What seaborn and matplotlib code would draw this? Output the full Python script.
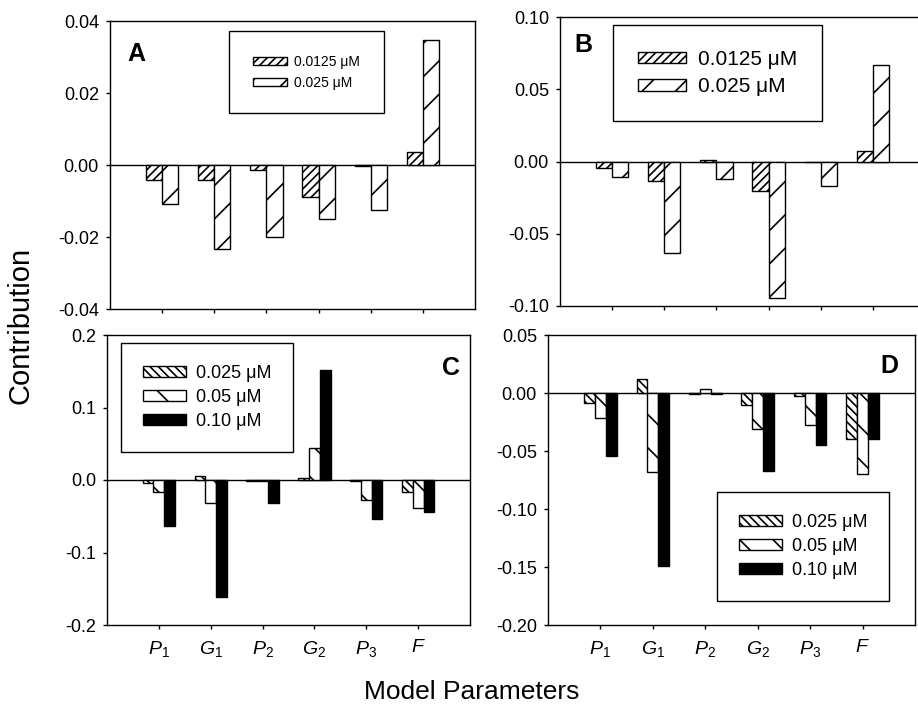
import numpy as np
import pandas as pd
import matplotlib
matplotlib.use("Agg")
import matplotlib.pyplot as plt
import seaborn as sns
from matplotlib.ticker import FormatStrFormatter
from matplotlib.patches import Patch

# ---------------- data ----------------
params = ["P1", "G1", "P2", "G2", "P3", "F"]
param_labels = [r"$\mathit{P}_{\mathit{1}}$", r"$\mathit{G}_{\mathit{1}}$",
                r"$\mathit{P}_{\mathit{2}}$", r"$\mathit{G}_{\mathit{2}}$",
                r"$\mathit{P}_{\mathit{3}}$", r"$\mathit{F}$"]

conc_ab = ["0.0125 \u03bcM", "0.025 \u03bcM"]
conc_cd = ["0.025 \u03bcM", "0.05 \u03bcM", "0.10 \u03bcM"]

A_0125 = [-0.0042, -0.0042, -0.0013, -0.0088, -0.0003, 0.0035]
A_025 = [-0.0109, -0.0233, -0.0200, -0.0149, -0.0126, 0.0346]

B_0125 = [-0.0046, -0.0138, 0.0008, -0.0203, -0.0003, 0.0074]
B_025 = [-0.0106, -0.0634, -0.0118, -0.0945, -0.0173, 0.0666]

C_025 = [-0.0045, 0.006, -0.001, 0.003, -0.0015, -0.017]
C_05 = [-0.017, -0.032, -0.001, 0.044, -0.027, -0.038]
C_10 = [-0.064, -0.162, -0.032, 0.152, -0.054, -0.044]

D_025 = [-0.0086, 0.0125, -0.0005, -0.0105, -0.0023, -0.040]
D_05 = [-0.0215, -0.068, 0.0035, -0.031, -0.0276, -0.070]
D_10 = [-0.054, -0.149, -0.001, -0.067, -0.045, -0.040]


def long_df(series, concs):
    rows = []
    for vals, c in zip(series, concs):
        for p, v in zip(params, vals):
            rows.append({"param": p, "conc": c, "value": v})
    return pd.DataFrame(rows)


dfA = long_df([A_0125, A_025], conc_ab)
dfB = long_df([B_0125, B_025], conc_ab)
dfC = long_df([C_025, C_05, C_10], conc_cd)
dfD = long_df([D_025, D_05, D_10], conc_cd)

# ---------------- style ----------------
sns.set_style("ticks")
plt.rcParams["font.family"] = ["Liberation Sans", "DejaVu Sans"]
plt.rcParams["mathtext.fontset"] = "custom"
plt.rcParams["mathtext.it"] = "Liberation Sans:italic"
plt.rcParams["mathtext.rm"] = "Liberation Sans"
plt.rcParams["axes.unicode_minus"] = False
plt.rcParams["hatch.linewidth"] = 1.2
plt.rcParams["text.color"] = "black"
plt.rcParams["axes.labelcolor"] = "black"
plt.rcParams["xtick.color"] = "black"
plt.rcParams["ytick.color"] = "black"

W, H = 918, 709
fig = plt.figure(figsize=(W / 100, H / 100), dpi=100)


def fig_rect(l, t, r, b):
    return [l / W, 1 - b / H, (r - l) / W, (b - t) / H]


def panel(rect, df, concs, hatches, facecolors, ylim, yticks, fmt,
          letter, letter_xy, leg, show_xlabels):
    ax = fig.add_axes(rect)
    sns.barplot(data=df, x="param", y="value", hue="conc", order=params,
                hue_order=concs, width=0.62, errorbar=None, ax=ax,
                edgecolor="black", linewidth=1.0, legend=False)
    for cont, h, fc in zip(ax.containers, hatches, facecolors):
        for bar in cont:
            bar.set_hatch(h)
            bar.set_facecolor(fc)
            bar.set_edgecolor("black")
            bar.set_linewidth(1.0)
    ax.axhline(0, color="black", lw=1.0, zorder=0.5)
    ax.set_xlim(-1, 6)
    ax.set_ylim(*ylim)
    ax.set_yticks(yticks)
    ax.yaxis.set_major_formatter(FormatStrFormatter(fmt))
    ax.set_xticks(range(len(params)))
    if show_xlabels:
        ax.set_xticklabels(param_labels, fontsize=14)
    else:
        ax.set_xticklabels([])
    ax.set_xlabel("")
    ax.set_ylabel("")
    for s in ax.spines.values():
        s.set_visible(True)
        s.set_linewidth(1.0)
        s.set_color("black")
    ax.tick_params(axis="both", direction="out", length=3, width=1,
                   colors="black", labelsize=13, pad=5)
    ax.tick_params(axis="x", pad=7, labelsize=14)
    ax.set_facecolor("white")

    fig.text(letter_xy[0] / W, 1 - letter_xy[1] / H, letter, fontsize=18,
             fontweight="bold", ha="left", va="baseline", color="black")

    handles = [Patch(facecolor=fc, edgecolor="black", hatch=h, label=c, linewidth=1.0)
               for c, h, fc in zip(concs, hatches, facecolors)]
    lg = ax.legend(handles=handles, loc="upper left",
                   bbox_to_anchor=(leg["x"] / W, 1 - leg["y"] / H),
                   bbox_transform=fig.transFigure, borderaxespad=0,
                   fontsize=leg["fs"], handlelength=leg["hl"],
                   handleheight=leg["hh"], handletextpad=leg["htp"],
                   labelspacing=leg["ls"], borderpad=leg["bp"],
                   frameon=True, fancybox=False, framealpha=1,
                   edgecolor="black")
    lg.get_frame().set_linewidth(1.0)
    for t in lg.get_texts():
        t.set_color("black")
    return ax


hatch_ab = ["////", "/"]
fc_ab = ["white", "white"]
hatch_cd = ["\\\\\\\\", "\\", ""]
fc_cd = ["white", "white", "black"]

panel(fig_rect(110, 21, 475, 309), dfA, conc_ab, hatch_ab, fc_ab,
      (-0.04, 0.04), [-0.04, -0.02, 0.0, 0.02, 0.04], "%.2f",
      "A", (127, 61),
      dict(x=229, y=31, fs=10, hl=2.5, hh=0.5, htp=0.5, ls=0.5, bp=1.7),
      False)

panel(fig_rect(560, 17, 925, 306), dfB, conc_ab, hatch_ab, fc_ab,
      (-0.10, 0.10), [-0.10, -0.05, 0.0, 0.05, 0.10], "%.2f",
      "B", (574, 52),
      dict(x=613, y=25, fs=15, hl=2.3, hh=0.45, htp=0.58, ls=0.4, bp=1.2),
      False)

panel(fig_rect(107, 335, 470, 625), dfC, conc_cd, hatch_cd, fc_cd,
      (-0.2, 0.2), [-0.2, -0.1, 0.0, 0.1, 0.2], "%.1f",
      "C", (442, 375),
      dict(x=121, y=343, fs=13, hl=2.4, hh=0.55, htp=0.55, ls=0.4, bp=1.2),
      True)

panel(fig_rect(548, 335, 915, 625), dfD, conc_cd, hatch_cd, fc_cd,
      (-0.20, 0.05), [-0.20, -0.15, -0.10, -0.05, 0.0, 0.05], "%.2f",
      "D", (880, 373),
      dict(x=717, y=492, fs=13, hl=2.4, hh=0.55, htp=0.55, ls=0.4, bp=1.2),
      True)

fig.text(21 / W, 1 - 325 / H, "Contribution", rotation=90, fontsize=21,
         ha="center", va="center", color="black")
fig.text(472 / W, 1 - 692 / H, "Model Parameters", fontsize=19,
         ha="center", va="center", color="black")

fig.savefig("out.png", dpi=100, facecolor="white")
